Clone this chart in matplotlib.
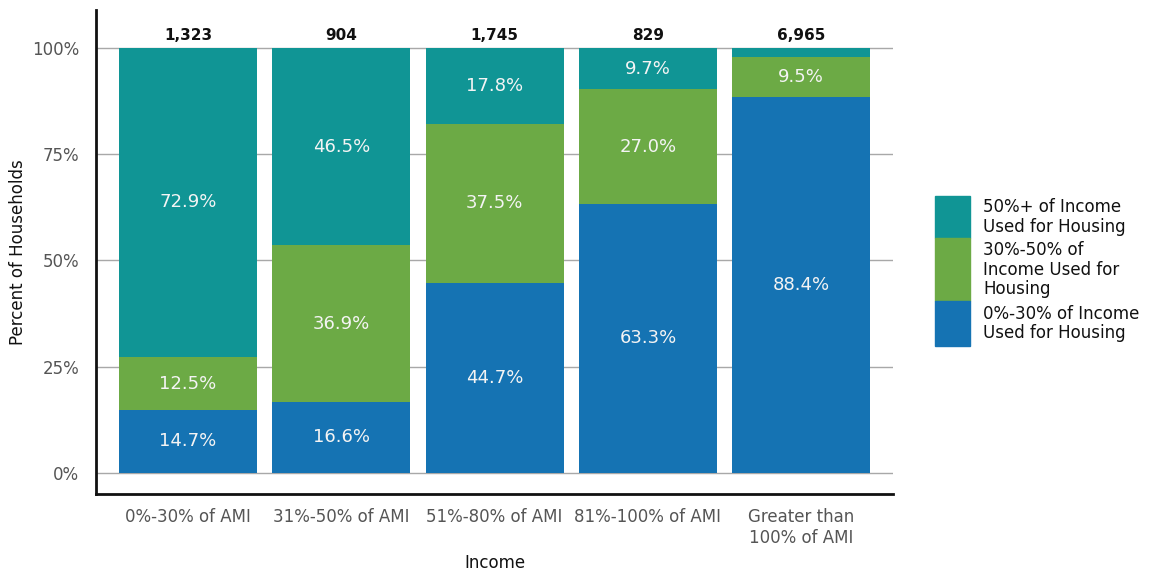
import matplotlib.pyplot as plt
from matplotlib.patches import Rectangle
import numpy as np

# income groups along x, household counts printed above each bar
groups = ['0%-30% of AMI', '31%-50% of AMI', '51%-80% of AMI',
          '81%-100% of AMI', 'Greater than\n100% of AMI']
totals = ['1,323', '904', '1,745', '829', '6,965']

# share of households per cost-burden band (bottom to top)
burden_0_30 = [14.7, 16.6, 44.7, 63.3, 88.4]
burden_30_50 = [12.5, 36.9, 37.5, 27.0, 9.5]
burden_50_up = [72.9, 46.5, 17.8, 9.7, 2.1]

series = [burden_0_30, burden_30_50, burden_50_up]
series_names = ['0%-30% of Income\nUsed for Housing',
                '30%-50% of\nIncome Used for\nHousing',
                '50%+ of Income\nUsed for Housing']
colors = ['#1573b3', '#6caa45', '#109595']

fig = plt.figure(figsize=(11.57, 5.73), dpi=100)
ax = fig.add_axes([0.083, 0.138, 0.689, 0.845])

x = np.arange(len(groups))
bottom = np.zeros(len(groups))
for vals, col in zip(series, colors):
    vals = np.array(vals)
    ax.bar(x, vals, 0.9, bottom=bottom, color=col, zorder=2)
    for xi, b, v in zip(x, bottom, vals):
        if v >= 5:
            ax.text(xi, b + v / 2, '%.1f%%' % v, ha='center', va='center',
                    color='#f4f4f4', fontsize=13, zorder=3)
    bottom += vals

for xi, t in zip(x, totals):
    ax.text(xi, 101.2, t, ha='center', va='bottom', fontsize=11,
            fontweight='bold', color='#111111')

ax.set_xlim(-0.6, 4.6)
ax.set_ylim(-5, 109)
ax.set_yticks([0, 25, 50, 75, 100])
ax.set_yticklabels(['0%', '25%', '50%', '75%', '100%'])
ax.set_xticks(x)
ax.set_xticklabels(groups)
ax.tick_params(axis='both', length=0, labelsize=12, colors='#555555')
ax.tick_params(axis='y', pad=12)
ax.tick_params(axis='x', pad=10)

for yv in [0, 25, 50, 75, 100]:
    ax.axhline(yv, color='#a8a8a8', lw=1, zorder=1)

for s in ['top', 'right']:
    ax.spines[s].set_visible(False)
for s in ['left', 'bottom']:
    ax.spines[s].set_linewidth(2)
    ax.spines[s].set_color('#111111')

ax.set_ylabel('Percent of Households', fontsize=12, color='#111111')
ax.set_xlabel('Income', fontsize=12, color='#111111')
ax.yaxis.label.set_va('center')
ax.xaxis.label.set_va('center')
ax.yaxis.set_label_coords(-0.098, 0.5)
ax.xaxis.set_label_coords(0.5, -0.142)

# legend drawn by hand so each swatch matches its text block
fh = 573.0
legend_rows = [(196, 238, colors[2], series_names[2]),
               (238, 301, colors[1], series_names[1]),
               (301, 346, colors[0], series_names[0])]
for top, bot, col, name in legend_rows:
    fig.add_artist(Rectangle((935 / 1157, 1 - bot / fh), 35 / 1157, (bot - top) / fh,
                             transform=fig.transFigure, color=col))
    fig.text(983 / 1157, 1 - (top + bot) / 2 / fh, name, ha='left', va='center',
             fontsize=12, color='#111111', linespacing=1.1)

fig.savefig('out.png', dpi=100)
